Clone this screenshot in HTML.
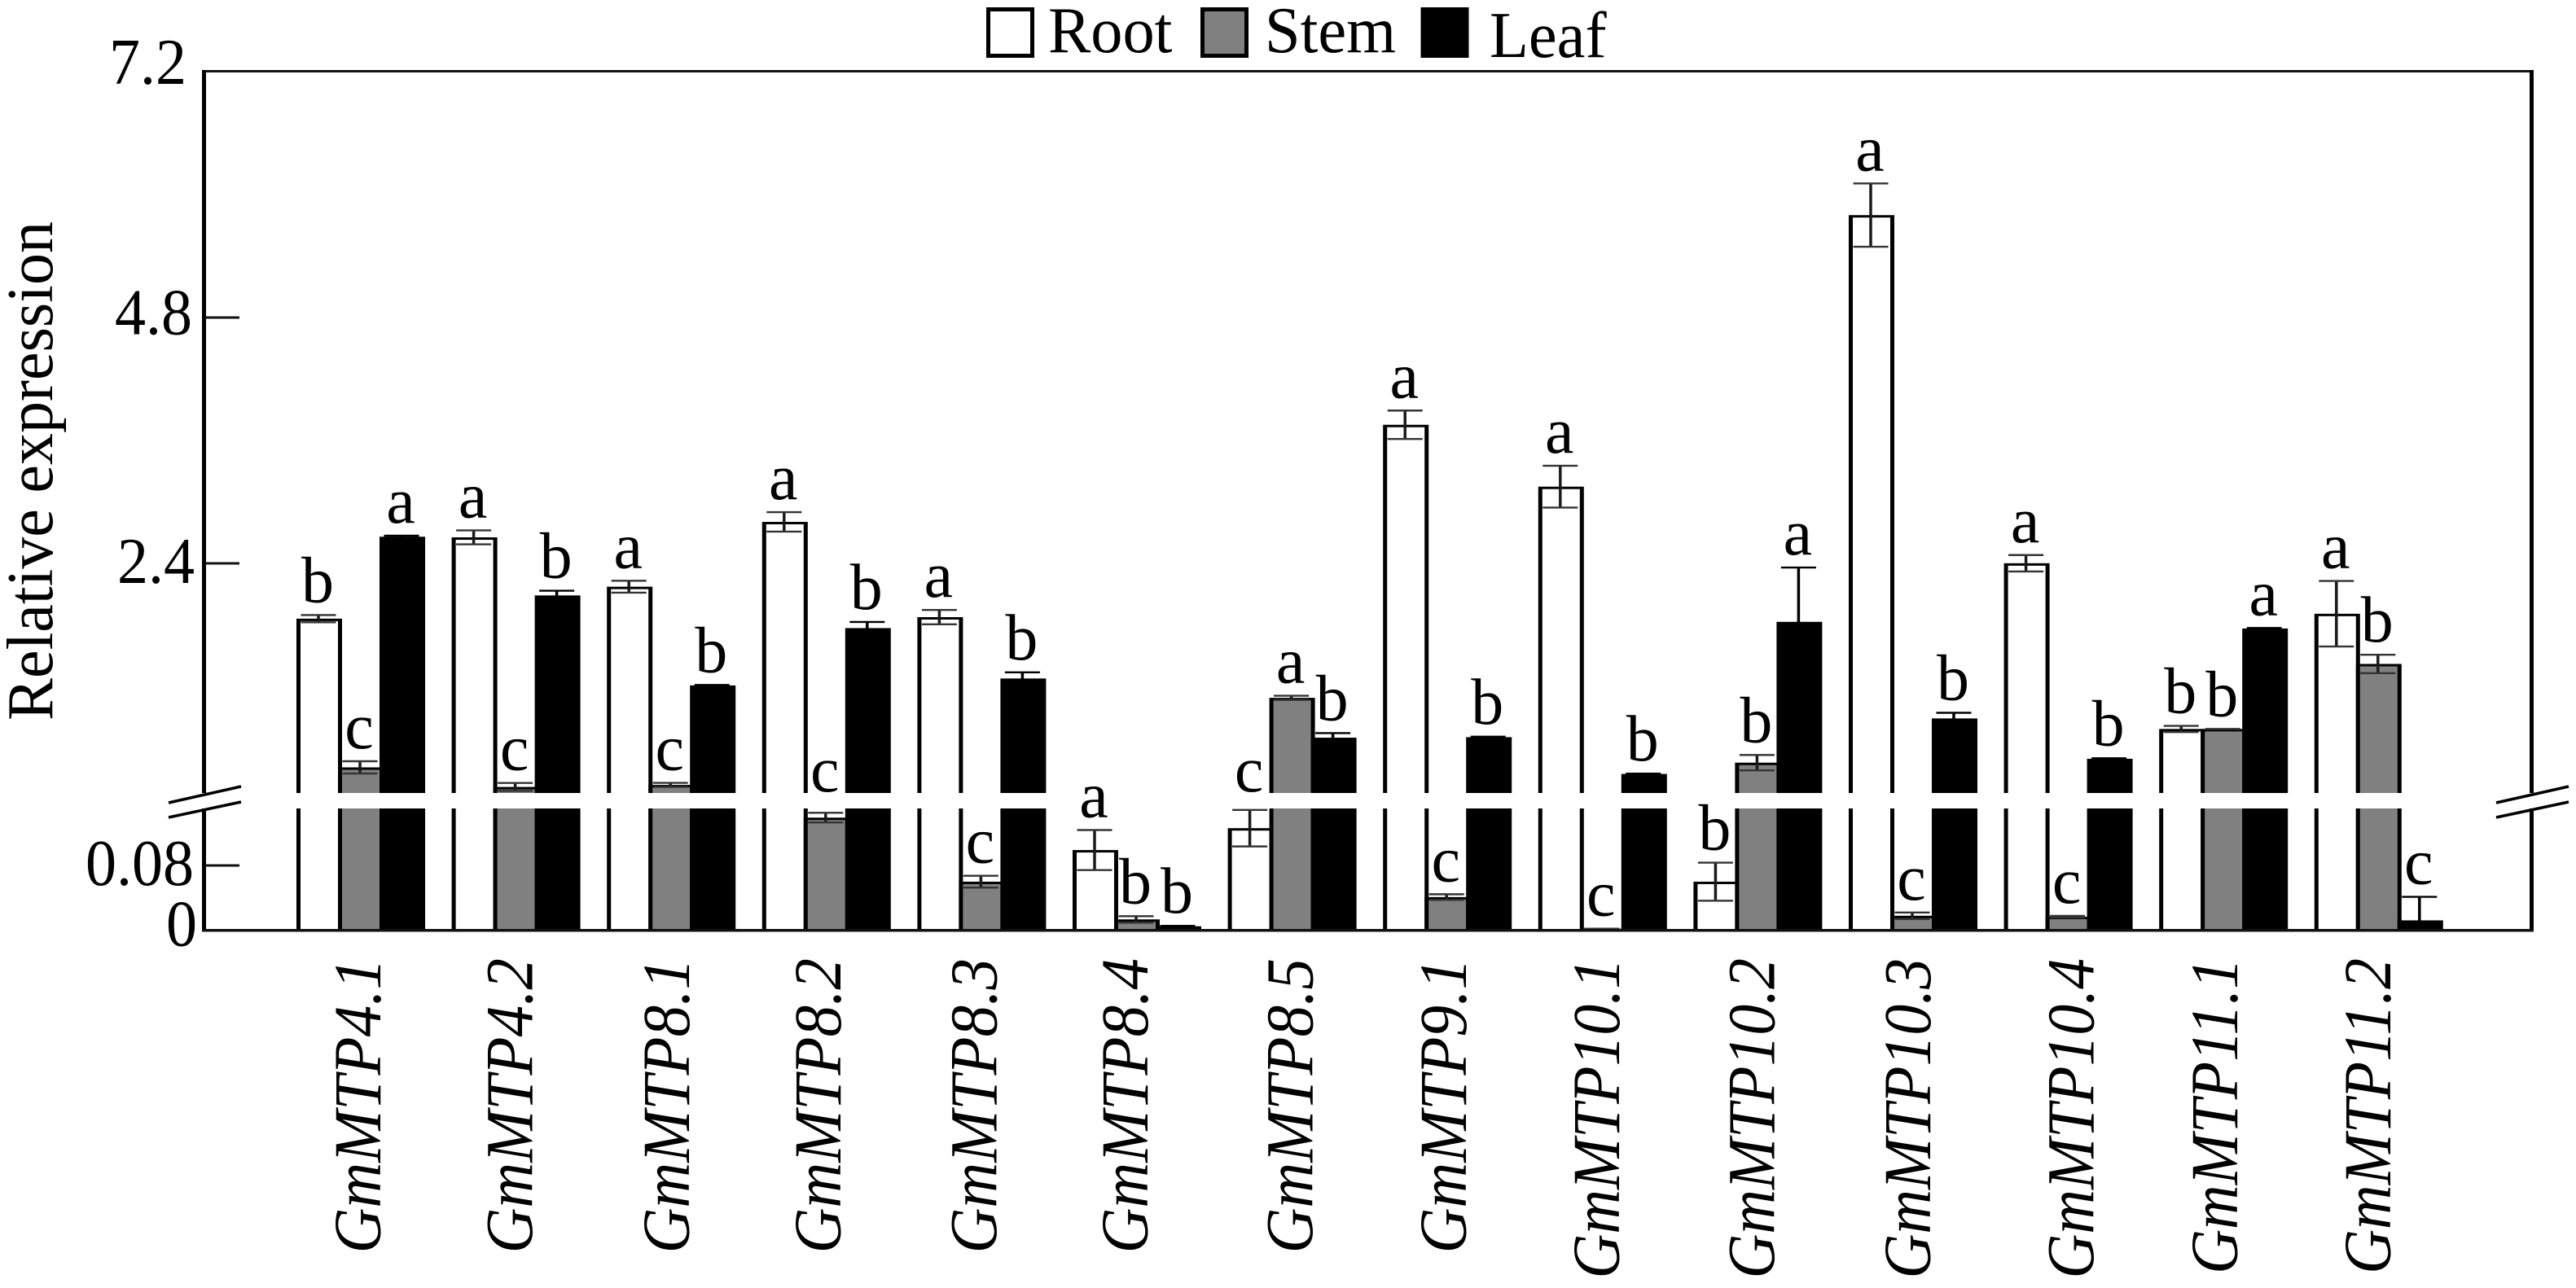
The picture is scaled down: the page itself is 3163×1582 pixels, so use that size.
<!DOCTYPE html>
<html lang="en">
<head>
<meta charset="utf-8">
<title>Relative expression of GmMTP genes</title>
<style>
html,body{margin:0;padding:0;background:#fff;}
svg{display:block;}
text{font-family:"Liberation Serif",serif;fill:#000;}
</style>
</head>
<body>
<svg id="chart" xmlns="http://www.w3.org/2000/svg" width="3163" height="1582" viewBox="0 0 3163 1582">
  <rect x="0" y="0" width="3163" height="1582" fill="#fff"/>
  <g id="bars"></g>
  <g id="errors"></g>
  <rect x="248" y="86" width="2863" height="3" fill="#111"/>
  <rect x="248" y="86" width="5" height="1058" fill="#000"/>
  <rect x="3106" y="86" width="5" height="1058" fill="#000"/>
  <rect x="248" y="1141" width="2863" height="3.5" fill="#111"/>
  <rect x="240" y="974" width="2880" height="19" fill="#fff"/>
  <g stroke="#000" stroke-width="3.5">
    <line x1="207" y1="986" x2="296" y2="966"/>
    <line x1="207" y1="1004" x2="296" y2="985"/>
  </g>
  <g stroke="#000" stroke-width="3.5">
    <line x1="3065" y1="986" x2="3154" y2="966"/>
    <line x1="3065" y1="1004" x2="3154" y2="985"/>
  </g>
  <g id="ticks"></g>
  <g id="letters"></g>
  <g id="genes"></g>
  <text font-size="80" transform="translate(64,885) rotate(-90) scale(0.975,1)">Relative expression</text>
  <g>
    <g>
      <rect x="1213.5" y="11.5" width="54" height="57" fill="#fff" stroke="#000" stroke-width="5"/>
      <text font-size="80" transform="translate(1287,64) scale(0.98,1)">Root</text>
    </g>
    <g>
      <rect x="1476.5" y="11.5" width="54" height="57" fill="#808080" stroke="#000" stroke-width="5"/>
      <text font-size="80" transform="translate(1553,64) scale(0.98,1)">Stem</text>
    </g>
    <g>
      <rect x="1747" y="11.5" width="54" height="57" fill="#000" stroke="#000" stroke-width="5"/>
      <text font-size="80" transform="translate(1829,70) scale(0.98,1)">Leaf</text>
    </g>
  </g>
</svg>
<script>
// ---- data ----
const genes = ["GmMTP4.1","GmMTP4.2","GmMTP8.1","GmMTP8.2","GmMTP8.3","GmMTP8.4","GmMTP8.5","GmMTP9.1","GmMTP10.1","GmMTP10.2","GmMTP10.3","GmMTP10.4","GmMTP11.1","GmMTP11.2"];
const rootValues = [1.86,2.654,2.172,2.805,1.875,0.099,0.126,3.753,3.149,0.060,5.80,2.401,0.783,1.908];
const stemValues = [0.408,0.217,0.237,0.139,0.060,0.0135,1.087,0.041,0.002,0.454,0.018,0.0168,0.783,1.418];
const leafValues = [2.66,2.087,1.208,1.768,1.276,0.005,0.698,0.703,0.344,1.829,0.886,0.492,1.764,0.0123];
const rootErrors = [0.035,0.068,0.058,0.095,0.07,0.0247,0.0225,0.139,0.204,0.0235,0.309,0.08,0.03,0.32];
const stemErrors = [0.06,0.039,0.02,0.006,0.0073,0.004,0.02,0.0035,0,0.075,0.004,0.001,0,0.09];
const leafErrors = [0.01,0.046,0.005,0.06,0.06,0.0005,0.045,0.005,0.003,0.53,0.055,0.005,0.005,0.029];
const rootLetters = ["b","a","a","a","a","a","c","a","a","b","a","a","b","a"];
const stemLetters = ["c","c","c","c","c","b","a","c","c","b","c","c","b","b"];
const leafLetters = ["a","b","b","b","b","b","b","b","b","a","b","b","a","c"];
const tickValues = [0,0.08,2.4,4.8,7.2];
const tickLabels = ["0","0.08","2.4","4.8","7.2"];
const seriesNames = ["root","stem","leaf"];
const seriesFills = ["#fff","#808080","#000"];

// ---- broken y axis: 0-0.15 lower panel, 0.15-7.2 upper panel ----
const breakValue = 0.15, baseY = 1142.7, lowerPx = 996, breakTopY = 975, upperPx = 125.8;
function yScale(v){
  return v <= breakValue ? baseY - v * lowerPx : breakTopY - (v - breakValue) * upperPx;
}
// ---- categorical x axis ----
const firstGroupLeft = 366.5, groupPitch = 190.6, barPitch = 51;
function barLeft(g, s){ return firstGroupLeft + g * groupPitch + s * barPitch; }
function barCenter(g, s){ return barLeft(g, s) + barPitch / 2; }

const NS = "http://www.w3.org/2000/svg";
function make(tag, attrs, parent){
  const el = document.createElementNS(NS, tag);
  for (const k in attrs) el.setAttribute(k, attrs[k]);
  parent.appendChild(el);
  return el;
}
const barsG = document.getElementById("bars");
const errG = document.getElementById("errors");
const tickG = document.getElementById("ticks");
const letterG = document.getElementById("letters");
const geneG = document.getElementById("genes");

const allValues = [rootValues, stemValues, leafValues];
const allErrors = [rootErrors, stemErrors, leafErrors];
const allLetters = [rootLetters, stemLetters, leafLetters];

genes.forEach(function(gene, g){
  for (let s = 0; s < 3; s++){
    const v = allValues[s][g];
    const top = yScale(v);
    const left = barLeft(g, s);
    const outer = make("rect", {x: left - 2.5, y: top, width: barPitch + 5, height: baseY - top, fill: "#000"}, barsG);
    
    
    if (s < 2 && baseY - top > 3){
      const inner = make("rect", {x: left + 2.5, y: top + 3, width: barPitch - 5, height: baseY - top - 3, fill: seriesFills[s]}, barsG);
      
      
    }
  }
});

genes.forEach(function(gene, g){
  for (let s = 0; s < 3; s++){
    const v = allValues[s][g], e = allErrors[s][g];
    const cx = barCenter(g, s) - 1;
    const yTop = yScale(v + e), yBot = yScale(Math.max(0, v - e));
    const ink = s === 2 ? "#000" : "#1a1a1a";
    const stemLine = make("path", {
      d: "M" + cx + " " + yTop + "V" + yBot,
      fill: "none", stroke: ink, "stroke-width": 3.5
    }, errG);
    
    
    const caps = make("path", {
      d: "M" + (cx - 21.5) + " " + yTop + "H" + (cx + 21.5) + "M" + (cx - 21.5) + " " + yBot + "H" + (cx + 21.5),
      fill: "none", stroke: s === 2 ? "#000" : "#333", "stroke-width": 2.4
    }, errG);
    
    

    let baseline = yTop - 16;
    if (yTop > 993 && yTop < 1001) baseline = 972;
    const t = make("text", {x: cx - 1, y: baseline, "font-size": 80, "text-anchor": "middle"}, letterG);
    t.textContent = allLetters[s][g];
    
    
  }
});

const geneLabelNudge = [4,0,2,-3,-2,-7,5,3,0,0,1,11,-3,-6];
genes.forEach(function(gene, g){
  const x = barCenter(g, 1) + 20 + geneLabelNudge[g];
  const alongScale = gene.length === 8 ? 0.965 : 0.947;
  const t = make("text", {"font-size": 80, "font-style": "italic", "text-anchor": "end",
    transform: "translate(" + x + ",1177) rotate(-90) scale(" + alongScale + ",1.03)"}, geneG);
  t.textContent = gene;
  
  
});

const tickLabelRightEdge = [242,238,239,236,229];
const tickLabelDrop = [19,24,24,20.5,15];
tickValues.forEach(function(v, i){
  const y = yScale(v);
  if (v > 0 && v < 7.2){
    const tick = make("rect", {x: 252, y: y - 1.5, width: 42, height: 3, fill: "#111"}, tickG);
    
    
  }
  const t = make("text", {"font-size": 80, "text-anchor": "end",
    transform: "translate(" + tickLabelRightEdge[i] + "," + (y + tickLabelDrop[i]) + ") scale(0.95,1)"}, tickG);
  t.textContent = tickLabels[i];
  
  
});
</script>
</body>
</html>
